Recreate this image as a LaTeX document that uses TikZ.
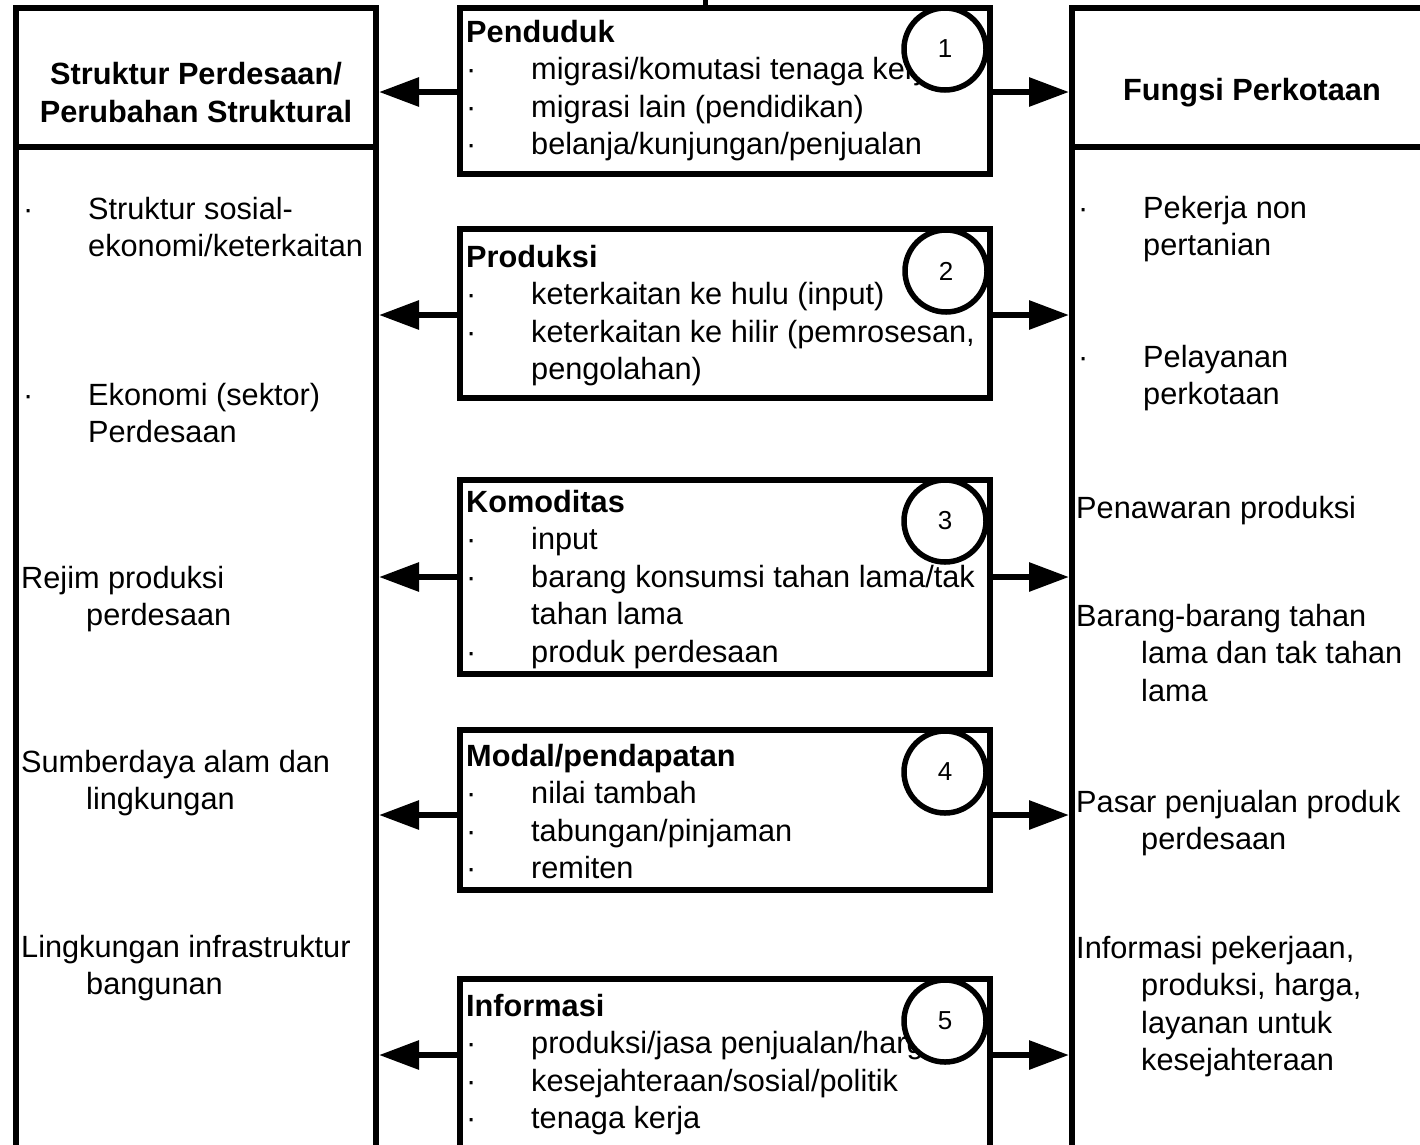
\documentclass[tikz,border=0pt]{standalone}
\usepackage{fontspec}
\setmainfont{Liberation Sans}
\usetikzlibrary{arrows.meta}
\newcommand{\isi}{\fontsize{30.7}{37.5}\selectfont}
\newcommand{\poin}{\makebox[65pt][l]{·}}
\newcommand{\lanjut}{\hspace*{65pt}}

\begin{document}
\begin{tikzpicture}[x=1pt, y=-1pt,
    kolom/.style={draw, line width=6pt, minimum width=360pt, inner sep=0pt},
    kotak/.style={draw, line width=6pt, minimum width=530pt, inner sep=0pt},
    nomor/.style={circle, draw, fill=white, line width=5.5pt, minimum size=82pt, inner sep=0pt, font=\fontsize{26}{30}\selectfont},
    teks/.style={anchor=north west, align=left, inner sep=0pt, yshift=23pt, font=\isi, execute at begin node=\strut},
    judul/.style={anchor=north, align=center, inner sep=0pt, yshift=26.25pt, font=\isi\bfseries, execute at begin node=\strut},
    panah/.style={line width=6pt, -{Triangle[length=40pt, width=28pt]}}
]
    \useasboundingbox (0,0) rectangle (1420,1144);
    \clip (0,0) rectangle (1420,1144);

    % kolom kiri dan kanan
    \node[kolom, minimum height=139pt] (desaatas) at (196,77.5) {};
    \node[kolom, minimum height=1053pt] (desabawah) at (196,673.5) {};
    \node[kolom, minimum height=139pt] (kotaatas) at (1252,77.5) {};
    \node[kolom, minimum height=1053pt] (kotabawah) at (1252,673.5) {};
    \node[judul] (judulkiri) at (196,88.5) {Struktur Perdesaan/\\Perubahan Struktural};
    \node[judul] (judulkanan) at (1252,100) {Fungsi Perkotaan};

    % kotak tengah
    \node[kotak, minimum height=166pt] (penduduk) at (725,91) {};
    \node[kotak, minimum height=169pt] (produksi) at (725,313.5) {};
    \node[kotak, minimum height=194pt] (komoditas) at (725,577) {};
    \node[kotak, minimum height=160pt] (modal) at (725,810) {};
    \node[kotak, minimum height=181pt] (informasi) at (725,1069.5) {};

    \coordinate (atas) at (705,-10);
    \draw[line width=5pt] (atas) -- (atas |- penduduk.north);

    % isi kolom kiri
    \node[teks] (desa1) at (23,220) {\poin Struktur sosial-\\\lanjut ekonomi/keterkaitan};
    \node[teks] (desa2) at (23,406) {\poin Ekonomi (sektor)\\\lanjut Perdesaan};
    \node[teks] (desa3) at (21,589) {Rejim produksi\\\lanjut perdesaan};
    \node[teks] (desa4) at (21,773) {Sumberdaya alam dan\\\lanjut lingkungan};
    \node[teks] (desa5) at (21,958) {Lingkungan infrastruktur\\\lanjut bangunan};

    % isi kolom kanan
    \node[teks] (kota1) at (1078,219) {\poin Pekerja non\\\lanjut pertanian};
    \node[teks] (kota2) at (1078,368) {\poin Pelayanan\\\lanjut perkotaan};
    \node[teks] (kota3) at (1076,515) {Penawaran produksi};
    \node[teks] (kota4) at (1076,627) {Barang-barang tahan\\\lanjut lama dan tak tahan\\\lanjut lama};
    \node[teks] (kota5) at (1076,813) {Pasar penjualan produk\\\lanjut perdesaan};
    \node[teks] (kota6) at (1076,959) {Informasi pekerjaan,\\\lanjut produksi, harga,\\\lanjut layanan untuk\\\lanjut kesejahteraan};

    % isi kotak tengah
    \node[teks] (isi1) at (466,43) {\textbf{Penduduk}\\\poin migrasi/komutasi tenaga kerja\\\poin migrasi lain (pendidikan)\\\poin belanja/kunjungan/penjualan};
    \node[teks] (isi2) at (466,268) {\textbf{Produksi}\\\poin keterkaitan ke hulu (input)\\\poin keterkaitan ke hilir (pemrosesan,\\\lanjut pengolahan)};
    \node[teks] (isi3) at (466,513) {\textbf{Komoditas}\\\poin input\\\poin barang konsumsi tahan lama/tak\\\lanjut tahan lama\\\poin produk perdesaan};
    \node[teks] (isi4) at (466,767) {\textbf{Modal/pendapatan}\\\poin nilai tambah\\\poin tabungan/pinjaman\\\poin remiten};
    \node[teks] (isi5) at (466,1017) {\textbf{Informasi}\\\poin produksi/jasa penjualan/harga\\\poin kesejahteraan/sosial/politik\\\poin tenaga kerja};

    % panah ke kedua sisi
    \foreach \kotak/\yy in {penduduk/92, produksi/315, komoditas/577, modal/815, informasi/1055} {
        \coordinate (p\kotak) at (725,\yy);
        \draw[panah] (p\kotak -| \kotak.west) -- (p\kotak -| desabawah.east);
        \draw[panah] (p\kotak -| \kotak.east) -- (p\kotak -| kotabawah.west);
    }

    % nomor
    \node[nomor] (n1) at (945,49) {1};
    \node[nomor] (n2) at (946,271) {2};
    \node[nomor] (n3) at (945,521) {3};
    \node[nomor] (n4) at (945,772) {4};
    \node[nomor] (n5) at (945,1021) {5};
\end{tikzpicture}
\end{document}
